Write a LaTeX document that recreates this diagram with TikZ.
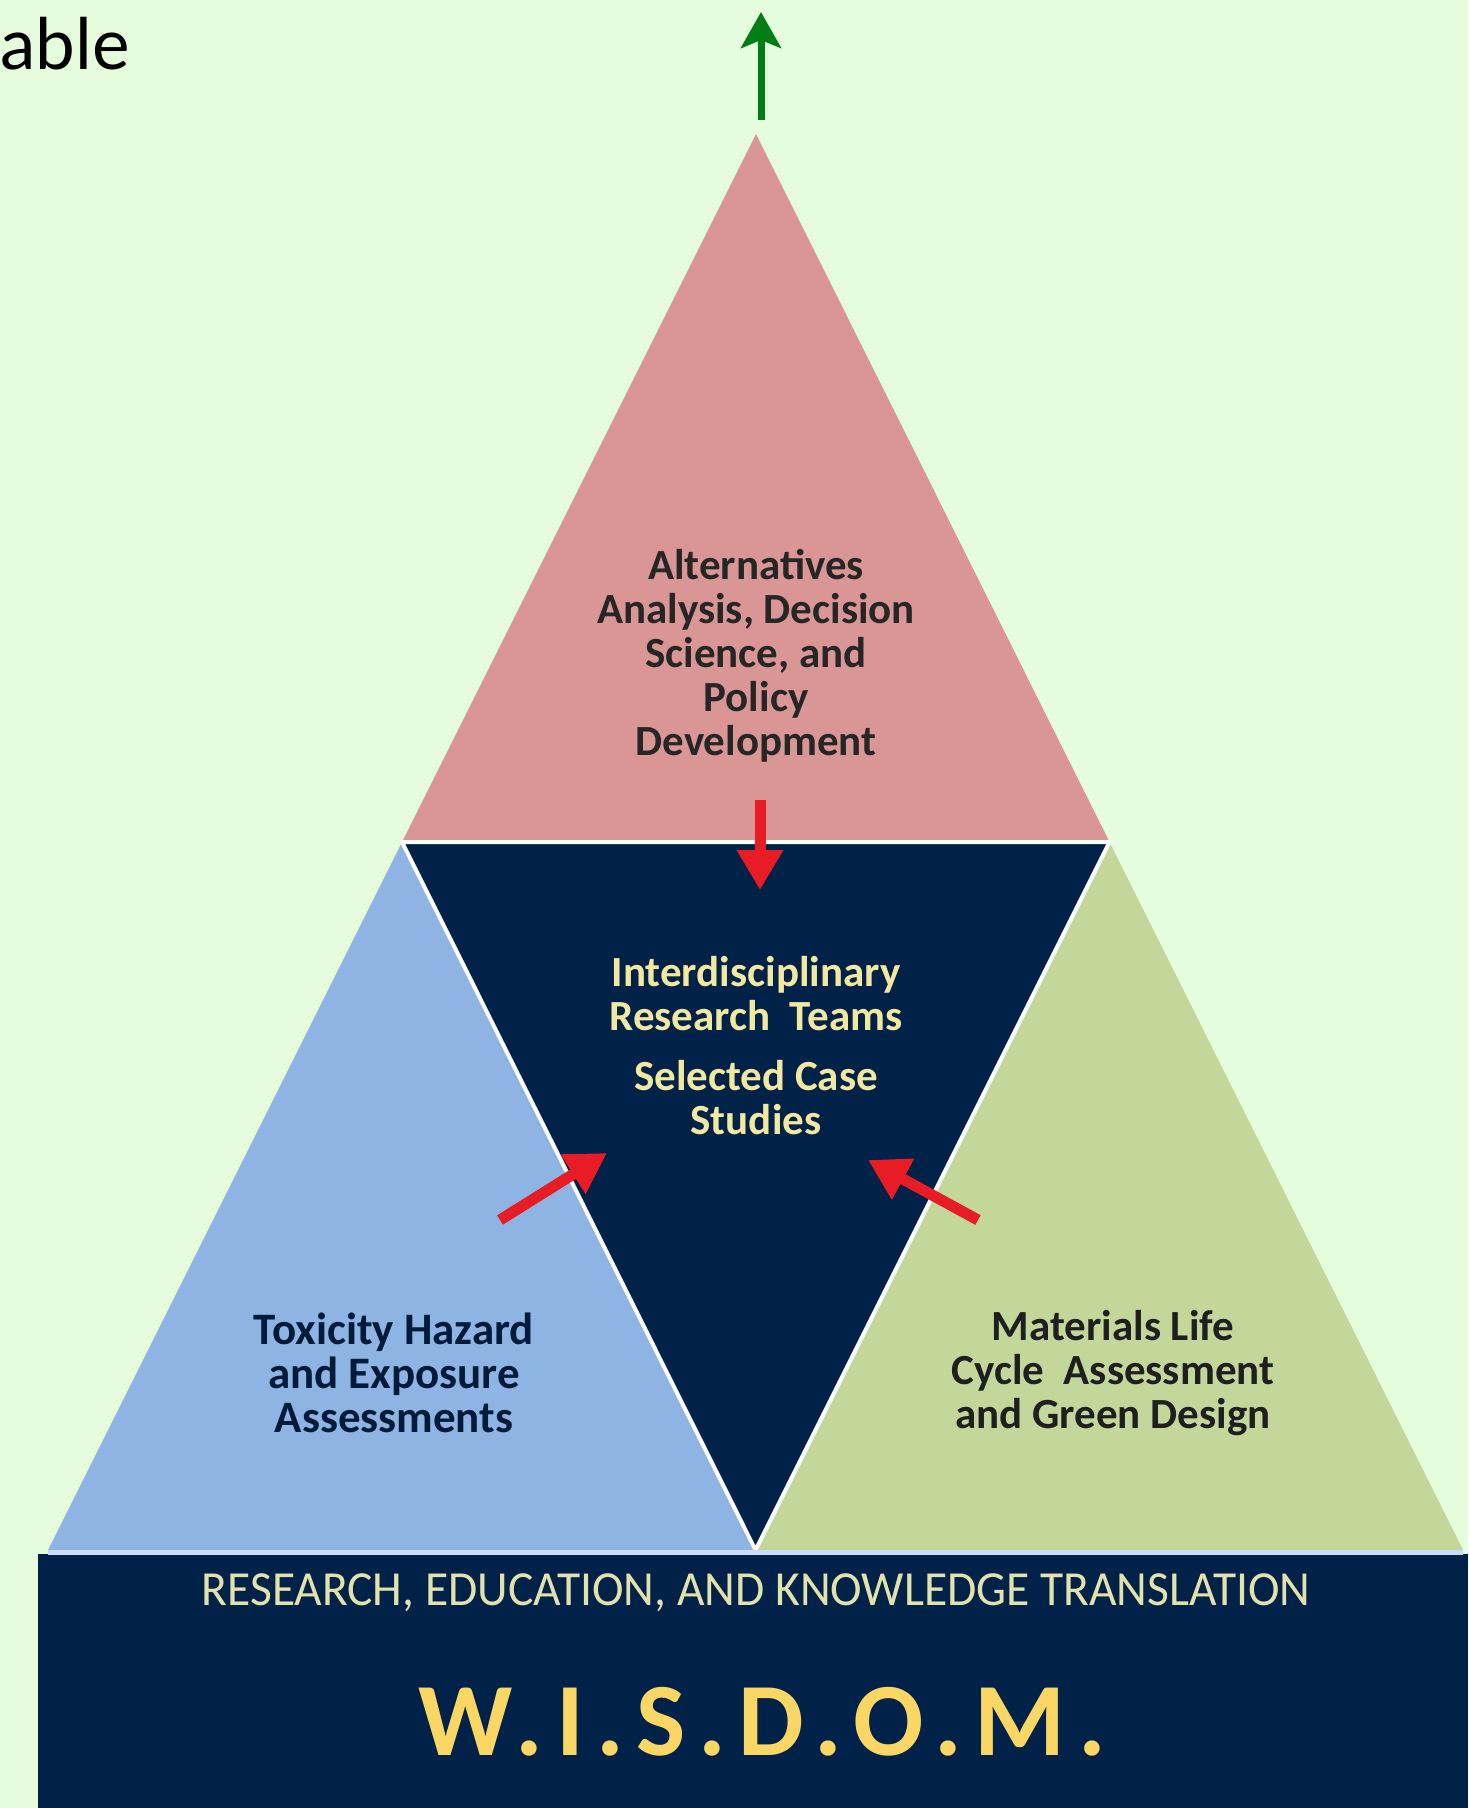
\documentclass[tikz,border=0pt]{standalone}
\usepackage{fontspec}
\setmainfont{Carlito}
\newfontfamily\thinfont{Lato}
\newfontfamily\condfont{Carlito}[FakeStretch=0.97]
\newfontfamily\wisfont{Carlito}[LetterSpace=12]
\usetikzlibrary{arrows.meta, positioning, calc}

\definecolor{bgmint}{RGB}{229,252,221}
\definecolor{pinkface}{RGB}{217,150,148}
\definecolor{navyface}{RGB}{0,33,72}
\definecolor{blueface}{RGB}{141,180,226}
\definecolor{greenface}{RGB}{196,215,155}
\definecolor{paleyellow}{RGB}{242,232,160}
\definecolor{bandtext}{RGB}{228,226,172}
\definecolor{goldtext}{RGB}{250,214,100}
\definecolor{arrowred}{RGB}{232,28,36}
\definecolor{arrowgreen}{RGB}{0,125,20}
\definecolor{seamblue}{RGB}{200,222,248}

\begin{document}
\begin{tikzpicture}[
            x=1pt, y=-1pt,
            facetext/.style={font=\bfseries\fontsize{43}{44}\selectfont, align=center},
            coretext/.style={font=\bfseries\fontsize{43}{44}\selectfont, align=center, text=paleyellow},
            pushflow/.style={-{Triangle[length=40pt,width=44pt]}, line width=11pt, draw=arrowred},
            upflow/.style={-{Stealth[length=36pt,width=40pt,inset=8pt]}, line width=7pt, draw=arrowgreen},
            ]
            \useasboundingbox[fill=bgmint] (0,0) rectangle (1468,1808);

            % corners of the big triangle and its midpoints
            \coordinate (apex) at (756,134);
            \coordinate (bl)   at (48,1550);
            \coordinate (br)   at (1463,1550);
            \coordinate (ml)   at ($(apex)!0.5!(bl)$);
            \coordinate (mr)   at ($(apex)!0.5!(br)$);
            \coordinate (mb)   at ($(bl)!0.5!(br)$);

            \fill[pinkface]  (apex) -- (ml) -- (mr) -- cycle;
            \fill[blueface]  (ml) -- (bl) -- (mb) -- cycle;
            \fill[greenface] (mr) -- (mb) -- (br) -- cycle;
            \fill[navyface]  (ml) -- (mr) -- (mb) -- cycle;
            \draw[white, line width=4pt, line join=round] (ml) -- (mr) -- (mb) -- cycle;

            % base band
            \fill[navyface] (38,1554) rectangle (1468,1808);
            \draw[seamblue, line width=5pt] (48,1552) -- (1463,1552);

            \node[font=\thinfont\fontsize{71}{72}\selectfont, anchor=base west] (able) at (-3,69) {able};

            \node[facetext, text=black!85] (policy) at (756,656)
                {Alternatives\\Analysis, Decision\\Science, and\\Policy\\Development};
            \node[coretext] (teams) at (756,994) {Interdisciplinary\\Research~ Teams};
            \node[coretext] (cases) [below=22pt of teams] {Selected Case\\Studies};
            \node[facetext, font=\bfseries\fontsize{45}{44}\selectfont, text=navyface!80!black] (toxic) at (394,1373)
                {Toxicity Hazard\\and Exposure\\Assessments};
            \node[facetext, text=black!88] (lifecycle) at (1113,1373)
                {Materials Life\\Cycle~ Assessment\\and Green Design};

            \node[font=\condfont\fontsize{49}{50}\selectfont, text=bandtext] (mission) at (756,1593)
                {RESEARCH, EDUCATION, AND KNOWLEDGE TRANSLATION};
            \node[font=\wisfont\bfseries\fontsize{104}{110}\selectfont, text=goldtext] (wisdom) at (762,1722)
                {W.I.S.D.O.M.};

            % arrow ends
            \coordinate (uptail)   at (761,120);
            \coordinate (uptip)    at (761,12);
            \coordinate (downtail) at (760,800);
            \coordinate (downtip)  at (760,890);
            \coordinate (lefttail) at (500,1220);
            \coordinate (lefttip)  at (607,1153);
            \coordinate (righttail) at (978,1220);
            \coordinate (righttip)  at (868,1160);

            \draw[upflow]   (uptail) -- (uptip);
            \draw[pushflow] (downtail) -- (downtip);
            \draw[pushflow] (lefttail) -- (lefttip);
            \draw[pushflow] (righttail) -- (righttip);
        \end{tikzpicture}
\end{document}
